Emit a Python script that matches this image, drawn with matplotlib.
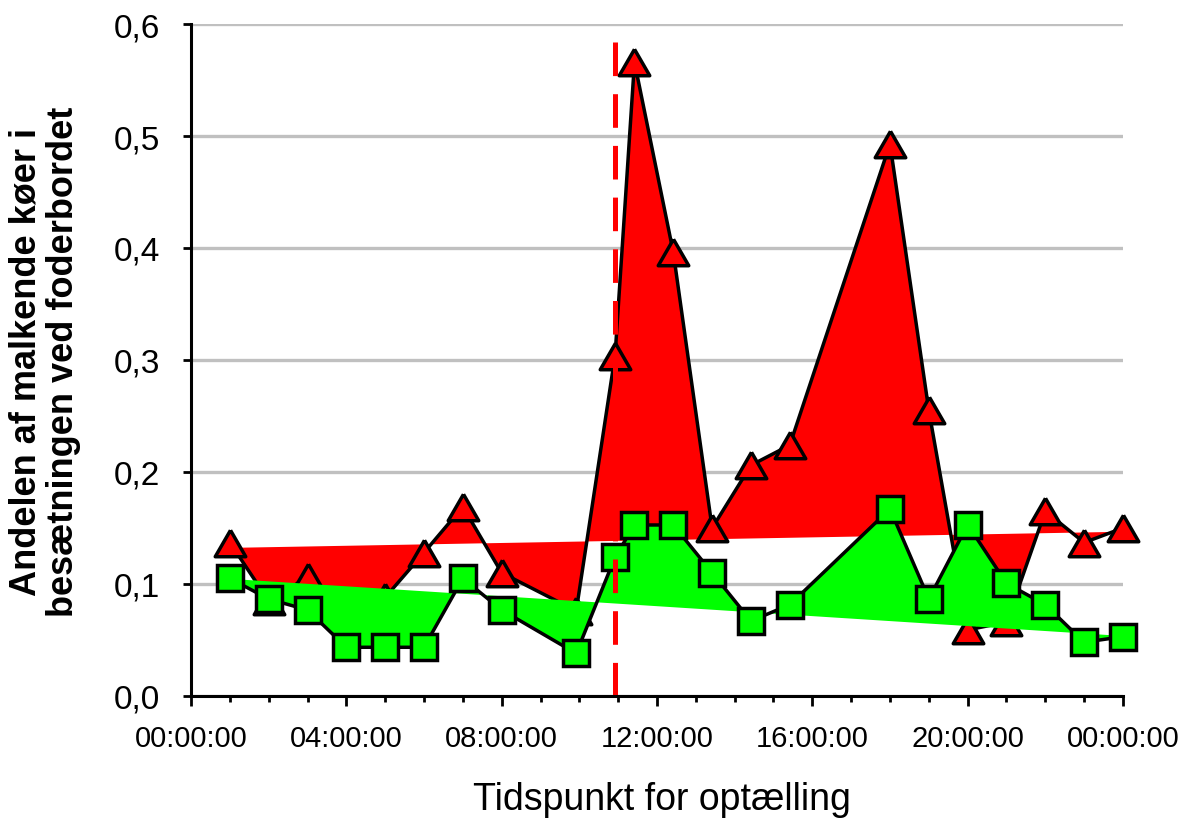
import matplotlib
matplotlib.use("Agg")
import matplotlib.pyplot as plt
import numpy as np

plt.rcParams['font.family'] = ['Liberation Sans', 'DejaVu Sans']

# ---- data (hours of day) ----
hours = [1, 2, 3, 4, 5, 6, 7, 8, 9.92, 10.92, 11.42, 12.42, 13.42, 14.42, 15.42,
         18, 19, 20, 21, 22, 23, 24]
red_vals = [0.137, 0.085, 0.106, 0.075, 0.088, 0.128, 0.169, 0.110, 0.076, 0.304,
            0.566, 0.396, 0.150, 0.206, 0.224, 0.493, 0.255, 0.059, 0.066, 0.165,
            0.137, 0.150]
green_vals = [0.105, 0.0866, 0.0768, 0.0435, 0.0435, 0.0435, 0.105, 0.0768, 0.038,
              0.124, 0.1527, 0.1527, 0.110, 0.067, 0.0815, 0.167, 0.0866, 0.153,
              0.1006, 0.0815, 0.048, 0.053]
# straight reference (trend) lines: value at first and last hour
trend_hours = [1, 24]
red_trend = [0.1327, 0.1471]
green_trend = [0.105, 0.054]
marker_time = 10.92  # dashed vertical line

x_tick_pos = [0, 4, 8, 12, 16, 20, 24]
x_tick_labels = ['00:00:00', '04:00:00', '08:00:00', '12:00:00', '16:00:00',
                 '20:00:00', '00:00:00']
y_tick_pos = [0.0, 0.1, 0.2, 0.3, 0.4, 0.5, 0.6]
y_tick_labels = ['0,0', '0,1', '0,2', '0,3', '0,4', '0,5', '0,6']

RED = '#FF0000'
GREEN = '#00FF00'

fig = plt.figure(figsize=(12.01, 8.2), dpi=100)
ax = fig.add_axes([191 / 1201, 1 - 697 / 820, (1123 - 191) / 1201, (697 - 25) / 820])

x = np.array(hours)
rt = np.interp(x, trend_hours, red_trend)
gt = np.interp(x, trend_hours, green_trend)

tri = [(0, 0.433), (-0.5, -0.433), (0.5, -0.433), (0, 0.433)]

ax.fill_between(x, red_vals, rt, color=RED, lw=0, zorder=1)
ax.plot(x, red_vals, color='black', lw=2.5, marker=tri, markersize=22,
        markerfacecolor=RED, markeredgecolor='black', markeredgewidth=2.5,
        zorder=2, clip_on=False)
ax.fill_between(x, green_vals, gt, color=GREEN, lw=0, zorder=3)
ax.plot(x, green_vals, color='black', lw=2.5, marker='s', markersize=18.5,
        markerfacecolor=GREEN, markeredgecolor='black', markeredgewidth=2.5,
        zorder=4, clip_on=False)
ax.axvline(marker_time, color=RED, lw=3.6, dashes=(6.72, 3.62), zorder=6)

ax.set_xlim(0, 24)
ax.set_ylim(0, 0.6)
ax.set_xticks(x_tick_pos)
ax.set_xticklabels(x_tick_labels)
ax.set_xticks(np.arange(0, 25, 1), minor=True)
ax.set_yticks(y_tick_pos)
ax.set_yticklabels(y_tick_labels)

ax.yaxis.grid(True, color='#C0C0C0', lw=2.4, zorder=0)
ax.set_axisbelow(True)

for s in ['top', 'right']:
    ax.spines[s].set_visible(False)
for s in ['left', 'bottom']:
    ax.spines[s].set_linewidth(2.2)
    ax.spines[s].set_color('black')
    ax.spines[s].set_zorder(7)

ax.tick_params(axis='x', which='major', direction='out', length=7, width=2,
               labelsize=21, pad=13)
ax.tick_params(axis='x', which='minor', direction='out', length=4, width=2)
ax.tick_params(axis='y', which='major', direction='out', length=6, width=2,
               labelsize=24, pad=16)

fig.text(662 / 1201, 1 - 800 / 820, 'Tidspunkt for optælling', fontsize=27,
         ha='center', va='center')
fig.text(45 / 1201, 1 - 362 / 820,
         'Andelen af malkende køer i\nbesætningen ved foderbordet',
         rotation=90, fontsize=26, fontweight='bold', ha='center', va='center',
         multialignment='center', linespacing=1.1)

fig.savefig('out.png', dpi=100)
